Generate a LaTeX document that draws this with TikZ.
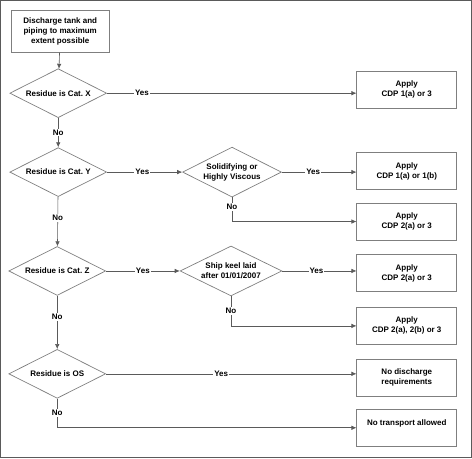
\documentclass[tikz,border=0pt]{standalone}
\usepackage{xcolor}
\usepackage{fontspec}
\setmainfont{Liberation Sans}
\usetikzlibrary{shapes.geometric,arrows.meta}
\definecolor{linegray}{HTML}{5A5A5A}
\definecolor{boxgray}{HTML}{7F7F7F}

\begin{document}
\begin{tikzpicture}[x=1pt,y=-1pt,
    font=\fontsize{8}{10}\selectfont\bfseries,
    >={Latex[length=5pt,width=4.5pt]},
    every path/.style={draw=linegray,line width=0.6pt},
    outbox/.style={draw=boxgray,line width=0.8pt,align=center,
        minimum width=100pt,minimum height=37pt,inner sep=1pt},
    test/.style={diamond,draw=boxgray,line width=0.7pt,align=center,
        shape aspect=2,inner sep=-3pt,
        minimum width=97pt,minimum height=49pt},
    lbl/.style={fill=white,inner sep=1pt}]
    \useasboundingbox (0,0) rectangle (472,458);
    \node[outbox,minimum width=98pt,minimum height=42pt] (start) at (60,31)
        {Discharge tank and\\piping to maximum\\extent possible};
    \node[test] (catx) at (58,93) {Residue is Cat.\ X};
    \node[test] (caty) at (58,172) {Residue is Cat.\ Y};
    \node[test] (catz) at (57,271) {Residue is Cat.\ Z};
    \node[test] (os) at (57,374) {Residue is OS};
    \node[test,minimum width=99pt,minimum height=50pt] (solid) at (232,172)
        {Solidifying or\\Highly Viscous};
    \node[test,minimum width=102pt,minimum height=50pt] (keel) at (231,271)
        {Ship keel laid\\after 01/01/2007};
    \node[outbox] (cdpx) at (407,89.5) {Apply\\CDP 1(a) or 3};
    \node[outbox] (cdpy) at (407,171) {Apply\\CDP 1(a) or 1(b)};
    \node[outbox] (cdpyb) at (407,221.5) {Apply\\CDP 2(a) or 3};
    \node[outbox] (cdpz) at (407,273) {Apply\\CDP 2(a) or 3};
    \node[outbox] (cdpzb) at (407,326) {Apply\\CDP 2(a), 2(b) or 3};
    \node[outbox] (nodis) at (407,378) {No discharge\\requirements};
    \node[outbox] (notrans) at (407,428) {No transport allowed\\\mbox{}};
    % main column
    \draw[->] (start) -- (catx);
    \draw[->] (catx) -- node[lbl] {No} (caty);
    \draw[->] (caty) -- node[lbl,pos=0.43] {No} (catz);
    \draw[->] (catz) -- node[lbl,pos=0.4] {No} (os);
    \draw[->] (os.south) |- node[lbl,pos=0.25] {No} (notrans.west);
    % yes branches
    \draw[->] (catx.east) -- node[lbl,pos=0.14] {Yes} (catx.east -| cdpx.west);
    \draw[->] (caty.east) -- node[lbl,pos=0.47] {Yes} (solid.west);
    \draw[->] (solid.east) -- node[lbl,pos=0.42] {Yes} (solid.east -| cdpy.west);
    \draw[->] (solid.south) |- node[lbl,pos=0.2] {No} (cdpyb.west);
    \draw[->] (catz.east) -- node[lbl,pos=0.5] {Yes} (keel.west);
    \draw[->] (keel.east) -- node[lbl,pos=0.46] {Yes} (keel.east -| cdpz.west);
    \draw[->] (keel.south) |- node[lbl,pos=0.25] {No} (cdpzb.west);
    \draw[->] (os.east) -- node[lbl,pos=0.46] {Yes} (os.east -| nodis.west);
\end{tikzpicture}
\end{document}
